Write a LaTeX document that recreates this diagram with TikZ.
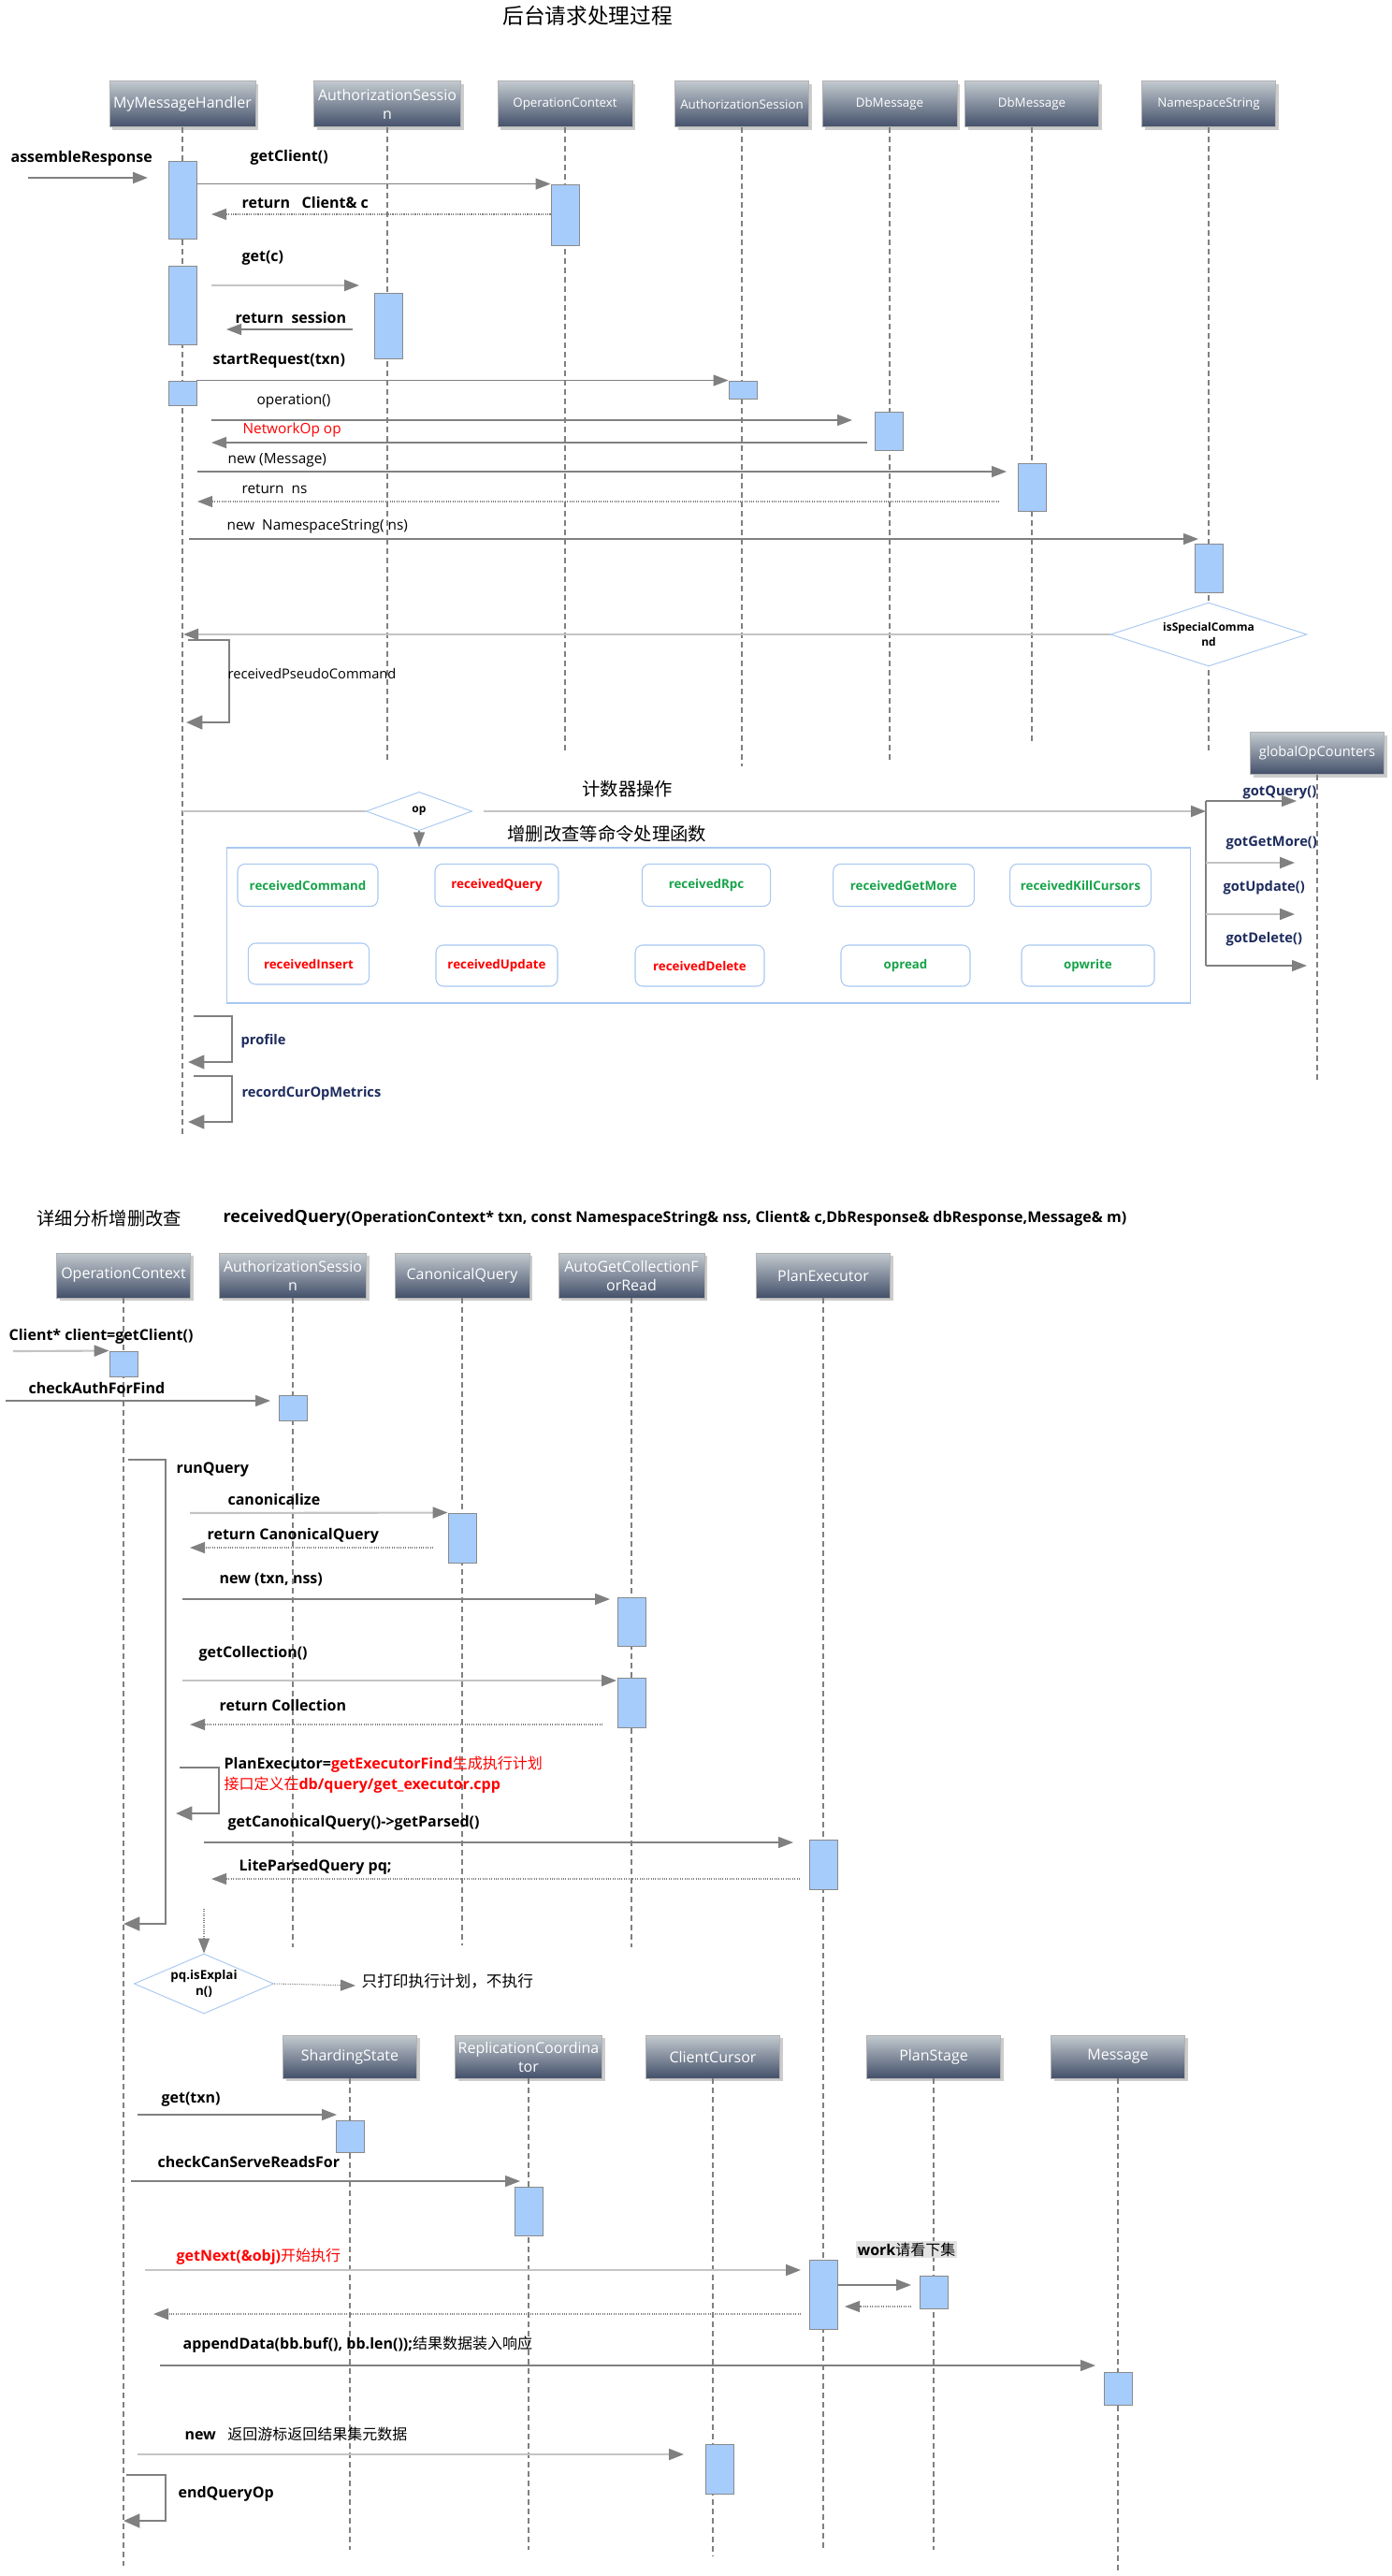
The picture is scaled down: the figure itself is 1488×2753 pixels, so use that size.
\documentclass[tikz,border=0pt]{standalone}
\usepackage{fontspec}
\setmainfont{Open Sans}
\newfontfamily\cjk{Noto Sans CJK SC}
\usepackage{tikz}
\usetikzlibrary{positioning, arrows.meta, shapes.geometric, shadows}
\definecolor{hdtop}{HTML}{C3CACF}
\definecolor{hdbot}{HTML}{43506A}
\definecolor{barblue}{HTML}{A6CCFC}
\definecolor{bargray}{HTML}{8A8A8A}
\definecolor{lgray}{HTML}{C4C4C4}
\definecolor{dgray}{HTML}{808080}
\definecolor{lblue}{HTML}{A8C8F2}
\definecolor{fngreen}{HTML}{17A34A}
\definecolor{fnred}{HTML}{FF0000}
\definecolor{navy}{HTML}{1D2B5E}
\tikzstyle{hdr}=[draw=gray!60, top color=hdtop, bottom color=hdbot, text=white, align=center, inner sep=1pt, minimum height=37pt, font=\fontsize{12}{15}\selectfont, drop shadow={shadow xshift=2.5pt, shadow yshift=-2.5pt, opacity=.4}]
\tikzstyle{hdrs}=[hdr, font=\fontsize{10}{13}\selectfont]
\tikzstyle{life}=[dgray, line width=0.8pt, dash pattern=on 4.5pt off 3pt]
\tikzstyle{actbar}=[draw=bargray, fill=barblue, line width=0.7pt, minimum width=22.5pt, inner sep=0pt]
\tikzstyle{call}=[->, dgray, line width=1pt]
\tikzstyle{callL}=[-{Triangle[length=12pt,width=9pt,color=dgray]}, lgray, line width=1.6pt]
\tikzstyle{ret}=[->, dgray, line width=0.8pt, densely dotted]
\tikzstyle{selfcall}=[-{Triangle[length=13pt,width=11pt]}, dgray, line width=2pt]
\tikzstyle{lline}=[lgray, line width=1.6pt]
\tikzstyle{lbl}=[anchor=west, inner sep=1pt, font=\bfseries\fontsize{12}{14}\selectfont]
\tikzstyle{lbln}=[lbl, font=\fontsize{11.5}{14}\selectfont]
\tikzstyle{cnt}=[lbl, text=navy, font=\bfseries\fontsize{11}{13}\selectfont]
\tikzstyle{fn}=[draw=lblue, fill=white, rounded corners=6pt, line width=0.8pt, minimum height=34pt, font=\bfseries\fontsize{10}{12}\selectfont]
\tikzstyle{cond}=[diamond, draw=lblue, fill=white, line width=0.7pt, inner sep=0pt, align=center, font=\bfseries\fontsize{9}{12}\selectfont]
\tikzstyle{zh}=[anchor=west, inner sep=1pt, font=\cjk\fontsize{14.5}{17}\selectfont]

\begin{document}
\begin{tikzpicture}[x=0.75pt, y=-0.75pt, >={Triangle[length=12pt,width=9pt]}]
    \path[use as bounding box, fill=white] (0,0) rectangle (1488,2753);

    \node[font=\cjk\fontsize{17}{20}\selectfont] (title) at (628,17) {后台请求处理过程};

    \node[hdr, minimum width=117pt] (mmh) at (195,111) {MyMessageHandler};
    \node[hdr, minimum width=118pt] (as1) at (414,111) {AuthorizationSessio\\n};
    \node[hdrs, minimum width=108pt] (oc1) at (604,111) {OperationContext};
    \node[hdrs, minimum width=107pt] (as2) at (793,111) {AuthorizationSession};
    \node[hdrs, minimum width=108pt] (db1) at (951,111) {DbMessage};
    \node[hdrs, minimum width=107pt] (db2) at (1103,111) {DbMessage};
    \node[hdrs, minimum width=107pt] (ns) at (1292,111) {NamespaceString};
    \node[hdr, minimum width=107pt, minimum height=34pt, font=\fontsize{11}{13}\selectfont] (goc) at (1408,805) {globalOpCounters};

    \node[hdr, minimum width=107pt, minimum height=36pt] (oc2) at (132,1363) {OperationContext};
    \node[hdr, minimum width=118pt, minimum height=36pt] (as3) at (313,1363) {AuthorizationSessio\\n};
    \node[hdr, minimum width=108pt, minimum height=36pt] (cq) at (494,1363) {CanonicalQuery};
    \node[hdr, minimum width=117pt, minimum height=36pt] (agc) at (675,1363) {AutoGetCollectionF\\orRead};
    \node[hdr, minimum width=107pt, minimum height=36pt] (pe) at (880,1363) {PlanExecutor};

    \node[hdr, minimum width=107pt, minimum height=34.5pt] (ss) at (374,2198) {ShardingState};
    \node[hdr, minimum width=118pt, minimum height=34.5pt] (rc) at (565,2198) {ReplicationCoordina\\tor};
    \node[hdr, minimum width=107pt, minimum height=34.5pt] (cc) at (762,2198) {ClientCursor};
    \node[hdr, minimum width=107pt, minimum height=34.5pt] (ps) at (998,2198) {PlanStage};
    \node[hdr, minimum width=107pt, minimum height=34.5pt] (msg) at (1195,2198) {Message};

    \foreach \n/\l in {mmh/1076, as1/676, oc1/667, as2/683, db1/676, db2/659, ns/667, goc/330,
                       oc2/1355, as3/694, cq/692, agc/694, pe/1338,
                       ss/504, rc/504, cc/511, ps/504, msg/527}
        \draw[life] (\n.south) -- ++(0,\l);

    \node[actbar, minimum height=62.25pt] (b1) at (195,213.5) {};
    \node[actbar, minimum height=48.75pt] (b2) at (604,229.5) {};
    \node[actbar, minimum height=63pt] (b3) at (195,326) {};
    \node[actbar, minimum height=52.5pt] (b4) at (415,348) {};
    \node[actbar, minimum height=19.5pt] (b5) at (195,420) {};
    \node[actbar, minimum height=14.25pt] (b6) at (794,416.5) {};
    \node[actbar, minimum height=30.75pt] (b7) at (950,460.5) {};
    \node[actbar, minimum height=38.25pt] (b8) at (1103,520.5) {};
    \node[actbar, minimum height=39pt] (b9) at (1292,607) {};

    \coordinate (arS) at (30,190);
    \coordinate (arE) at (158,190);
    \draw[call, line width=1.6pt] (arS) -- (arE);
    \node[lbl] (lar) at (10,169) {assembleResponse};
    \draw[call] (b1.east |- b2.north) -- (b2.north west);
    \node[lbl] (lgc) at (266,168) {getClient()};
    \coordinate (ccE) at (226,229);
    \draw[ret] (b2.west |- ccE) -- (ccE);
    \node[lbl] (lcc) at (257,216) {return~~~Client\& c};
    \coordinate (gcS) at (226,305);
    \coordinate (gcE) at (384,305);
    \draw[callL] (gcS) -- (gcE);
    \node[lbl] (lget) at (257,276) {get(c)};
    \coordinate (rsS) at (377,352);
    \coordinate (rsE) at (242,352);
    \draw[call] (rsS) -- (rsE);
    \node[lbl] (lrs) at (250,339) {return~~session};
    \draw[call] (b5.north east) -- (b6.north west);
    \node[lbl] (lsr) at (226,386) {startRequest(txn)};
    \coordinate (opS) at (226,449);
    \coordinate (opE) at (911,449);
    \draw[call] (opS) -- (opE);
    \node[lbln] (lop) at (273,429) {operation()};
    \coordinate (noS) at (927,473);
    \coordinate (noE) at (226,473);
    \draw[call] (noS) -- (noE);
    \node[lbln, text=fnred] (lno) at (258,460) {NetworkOp op};
    \coordinate (nmS) at (211,504);
    \coordinate (nmE) at (1076,504);
    \draw[call] (nmS) -- (nmE);
    \node[lbln] (lnm) at (242,492) {new (Message)};
    \coordinate (rnS) at (1068,536);
    \coordinate (rnE) at (211,536);
    \draw[ret] (rnS) -- (rnE);
    \node[lbln] (lrn) at (257,523) {return~~ns};
    \coordinate (nsS) at (202,576);
    \coordinate (nsE) at (1281,576);
    \draw[call] (nsS) -- (nsE);
    \node[lbln] (lns) at (241,563) {new~~NamespaceString( ns)};

    \node[cond, aspect=3, minimum width=157.5pt, minimum height=51pt] (isc) at (1292,678) {isSpecialComma\\nd};
    \coordinate (iscE) at (196,678);
    \draw[callL] (isc.west) -- (iscE);
    \coordinate (pcS) at (201,684);
    \coordinate (pcE) at (199,772);
    \draw[selfcall] (pcS) -- ++(44,0) |- (pcE);
    \node[lbln, font=\fontsize{11}{13}\selectfont] (lpc) at (242,720) {receivedPseudoCommand};

    \node[cond, aspect=2.8, minimum width=85pt, minimum height=31pt] (op) at (448,867) {op};
    \coordinate (opL) at (195,867);
    \draw[lline] (opL) -- (op.west);
    \coordinate (cntS) at (517,867);
    \coordinate (cntE) at (1289,867);
    \draw[callL] (cntS) -- (cntE);
    \node[zh] (lcnt) at (621,843) {计数器操作};
    \node[zh] (lfn) at (541,891) {增删改查等命令处理函数};
    \node[draw=lblue, line width=0.8pt, minimum width=773pt, minimum height=124.5pt] (fnbox) at (757.5,989) {};
    \draw[call] (op.south) -- (op.south |- fnbox.north);

    \node[fn, text=fngreen, minimum width=112.5pt] (fcmd) at (329,946) {receivedCommand};
    \node[fn, text=fnred, minimum width=99pt] (fqry) at (531,946) {receivedQuery};
    \node[fn, text=fngreen, minimum width=103pt] (frpc) at (755,946) {receivedRpc};
    \node[fn, text=fngreen, minimum width=113pt] (fgm) at (966,946) {receivedGetMore};
    \node[fn, text=fngreen, minimum width=113pt] (fkc) at (1155,946) {receivedKillCursors};
    \node[fn, text=fnred, minimum width=97pt, minimum height=33pt] (fins) at (330,1030) {receivedInsert};
    \node[fn, text=fnred, minimum width=97.5pt, minimum height=33pt] (fupd) at (531,1032) {receivedUpdate};
    \node[fn, text=fnred, minimum width=103.5pt, minimum height=33pt] (fdel) at (748,1032) {receivedDelete};
    \node[fn, text=fngreen, minimum width=103.5pt, minimum height=33pt] (frd) at (968,1032) {opread};
    \node[fn, text=fngreen, minimum width=106.5pt, minimum height=33pt] (fwr) at (1163,1032) {opwrite};

    \coordinate (gq) at (1289,856);
    \coordinate (gg) at (1289,922);
    \coordinate (gu) at (1289,977);
    \coordinate (gd) at (1289,1032);
    \draw[dgray, line width=1pt] (gq) -- (gd);
    \draw[call] (gq) -- ++(97,0);
    \draw[callL] (gg) -- ++(95,0);
    \draw[callL] (gu) -- ++(95,0);
    \draw[call] (gd) -- ++(108,0);
    \node[cnt] (lgq) at (1327,847) {gotQuery()};
    \node[cnt] (lgg) at (1309,901) {gotGetMore()};
    \node[cnt] (lgu) at (1306,949) {gotUpdate()};
    \node[cnt] (lgd) at (1309,1004) {gotDelete()};

    \coordinate (pfS) at (207,1086);
    \coordinate (pfE) at (201,1135);
    \draw[selfcall] (pfS) -- ++(41,0) |- (pfE);
    \node[cnt] (lpf) at (256,1113) {profile};
    \coordinate (rmS) at (207,1150);
    \coordinate (rmE) at (201,1199);
    \draw[selfcall] (rmS) -- ++(41,0) |- (rmE);
    \node[cnt] (lrm) at (257,1169) {recordCurOpMetrics};

    \node[zh] (t2) at (38,1302) {详细分析增删改查};
    \node[lbl] (sig) at (237,1302) {{\fontsize{13.5}{16}\selectfont receivedQuery}(OperationContext* txn, const NamespaceString\& nss, Client\& c,DbResponse\& dbResponse,Message\& m)};

    \node[actbar, minimum height=20.25pt] (c1) at (132,1457.5) {};
    \node[actbar, minimum height=20.25pt] (c2) at (313,1504.5) {};
    \node[actbar, minimum height=39.75pt] (c3) at (494,1643.5) {};
    \node[actbar, minimum height=39pt] (c4) at (675,1733) {};
    \node[actbar, minimum height=39.75pt] (c5) at (675,1819.5) {};
    \node[actbar, minimum height=39.75pt] (c6) at (880,1992.5) {};

    \coordinate (gcl) at (14,1444);
    \draw[callL] (gcl) -- (c1.north west);
    \node[lbl] (lcl) at (8,1428) {Client* client=getClient()};
    \coordinate (caS) at (6,1497);
    \coordinate (caE) at (289,1497);
    \draw[call] (caS) -- (caE);
    \node[lbl] (lca) at (29,1483) {checkAuthForFind};
    \coordinate (rqS) at (137,1560);
    \coordinate (rqE) at (132,2056);
    \draw[selfcall] (rqS) -- ++(40,0) |- (rqE);
    \node[lbl] (lrq) at (187,1571) {runQuery};
    \coordinate (cnS) at (203,1617);
    \draw[callL] (cnS) -- (c3.north west);
    \node[lbl] (lcn) at (242,1602) {canonicalize};
    \coordinate (rcqS) at (463,1654);
    \coordinate (rcqE) at (203,1654);
    \draw[ret] (rcqS) -- (rcqE);
    \node[lbl] (lrcq) at (220,1641) {return CanonicalQuery};
    \coordinate (ntS) at (195,1709);
    \coordinate (ntE) at (652,1709);
    \draw[call] (ntS) -- (ntE);
    \node[lbl] (lnt) at (233,1688) {new (txn, nss)};
    \coordinate (gcoS) at (195,1796);
    \coordinate (gcoE) at (659,1796);
    \draw[callL] (gcoS) -- (gcoE);
    \node[lbl] (lgco) at (211,1767) {getCollection()};
    \coordinate (rcoS) at (644,1843);
    \coordinate (rcoE) at (203,1843);
    \draw[ret] (rcoS) -- (rcoE);
    \node[lbl] (lrco) at (233,1822) {return Collection};
    \coordinate (pxS) at (192,1889);
    \coordinate (pxE) at (188,1938);
    \draw[selfcall] (pxS) -- ++(42,0) |- (pxE);
    \node[lbl, align=left, font=\bfseries\fontsize{12}{17}\selectfont] (lpx) at (238,1896.5)
        {PlanExecutor=\textcolor{fnred}{getExecutorFind}{\cjk\mdseries\color{fnred}生成执行计划}\\
         {\cjk\mdseries\color{fnred}接口定义在}\textcolor{fnred}{db/query/get\_executor.cpp}};
    \coordinate (gpS) at (218,1969);
    \coordinate (gpE) at (848,1969);
    \draw[call, line width=0.8pt] (gpS) -- (gpE);
    \node[lbl] (lgp) at (242,1948) {getCanonicalQuery()->getParsed()};
    \coordinate (lpS) at (855,2008);
    \coordinate (lpE) at (226,2008);
    \draw[ret] (lpS) -- (lpE);
    \node[lbl] (llp) at (254,1995) {LiteParsedQuery pq;};

    \node[cond, aspect=2.3, minimum width=112pt, minimum height=48pt, font=\bfseries\fontsize{10}{13}\selectfont] (pq) at (218,2120) {pq.isExplai\\n()};
    \coordinate (pqT) at (218,2040);
    \draw[ret] (pqT) -- (pq.north);
    \coordinate (expE) at (380,2122);
    \draw[ret] (pq.east) -- (expE);
    \node[zh, font=\cjk\fontsize{12.5}{15}\selectfont] (lexp) at (385,2117) {只打印执行计划，不执行};

    \node[actbar, minimum height=25.5pt] (d1) at (374,2283) {};
    \node[actbar, minimum height=39pt] (d2) at (565,2363) {};
    \node[actbar, minimum height=55.5pt] (d3) at (880,2452) {};
    \node[actbar, minimum height=26.25pt] (d4) at (998,2449.5) {};
    \node[actbar, minimum height=26.25pt] (d5) at (1195,2552.5) {};
    \node[actbar, minimum height=39.75pt] (d6) at (769,2638.5) {};

    \coordinate (gtS) at (147,2260);
    \coordinate (gtE) at (360,2260);
    \draw[call] (gtS) -- (gtE);
    \node[lbl] (lgt) at (171,2244) {get(txn)};
    \coordinate (ckS) at (140,2331);
    \coordinate (ckE) at (556,2331);
    \draw[call, line width=0.8pt] (ckS) -- (ckE);
    \node[lbl] (lck) at (167,2310) {checkCanServeReadsFor};
    \coordinate (gnS) at (155,2426);
    \coordinate (gnE) at (856,2426);
    \draw[callL] (gnS) -- (gnE);
    \node[lbl, text=fnred] (lgn) at (187,2412) {getNext(\&obj){\cjk\mdseries 开始执行}};
    \coordinate (wkE) at (974,2442);
    \draw[call] (d3.east |- wkE) -- (wkE);
    \node[lbl, fill=gray!22, font=\fontsize{12}{14}\selectfont] (lwk) at (915,2404) {\textbf{work}{\cjk 请看下集}};
    \coordinate (wrS) at (974,2465);
    \coordinate (wrE) at (903,2465);
    \draw[ret] (wrS) -- (wrE);
    \coordinate (prS) at (856,2473);
    \coordinate (prE) at (164,2473);
    \draw[ret] (prS) -- (prE);
    \coordinate (adS) at (171,2528);
    \coordinate (adE) at (1171,2528);
    \draw[call, line width=0.8pt] (adS) -- (adE);
    \node[lbl] (lad) at (194,2506) {appendData(bb.buf(), bb.len());{\cjk\mdseries 结果数据装入响应}};
    \coordinate (nwS) at (147,2623);
    \coordinate (nwE) at (731,2623);
    \draw[callL] (nwS) -- (nwE);
    \node[lbl] (lnw) at (196,2601) {new~~~{\cjk\mdseries 返回游标返回结果集元数据}};
    \coordinate (eqS) at (135,2645);
    \coordinate (eqE) at (132,2694);
    \draw[selfcall] (eqS) -- ++(42,0) |- (eqE);
    \node[lbl] (leq) at (189,2665) {endQueryOp};
\end{tikzpicture}
\end{document}
